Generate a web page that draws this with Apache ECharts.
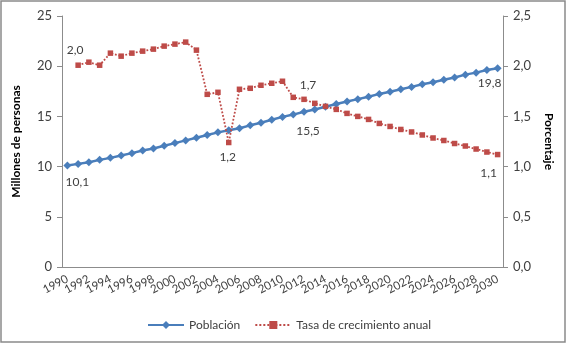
<!DOCTYPE html>
<html>
<head>
<meta charset="utf-8">
<script src="https://cdn.jsdelivr.net/npm/echarts@6/dist/echarts.min.js"></script>
<style>
html,body{margin:0;padding:0;background:#fff;}
#chart{width:567px;height:344px;}
</style>
</head>
<body>
<div id="chart"></div>
<script>
const years = [];
for (let y = 1990; y <= 2030; y++) years.push(String(y));

const poblacion = [10.10, 10.27, 10.44, 10.67, 10.87, 11.11, 11.34, 11.60, 11.81, 12.07,
  12.34, 12.61, 12.87, 13.14, 13.41, 13.62, 13.82, 14.11, 14.37, 14.67,
  14.95, 15.18, 15.46, 15.69, 15.96, 16.23, 16.48, 16.72, 16.96, 17.24,
  17.46, 17.70, 17.94, 18.20, 18.41, 18.65, 18.88, 19.16, 19.36, 19.62, 19.80];

const tasa = [null, 2.01, 2.04, 2.01, 2.13, 2.10, 2.13, 2.15, 2.17, 2.20,
  2.22, 2.24, 2.16, 1.72, 1.74, 1.24, 1.77, 1.78, 1.81, 1.83,
  1.85, 1.69, 1.67, 1.63, 1.60, 1.57, 1.53, 1.50, 1.47, 1.43,
  1.40, 1.37, 1.345, 1.315, 1.285, 1.26, 1.23, 1.205, 1.175, 1.145, 1.12];

const leftTicks = [0, 5, 10, 15, 20, 25];
const rightTicks = [0, 0.5, 1.0, 1.5, 2.0, 2.5];

const fmt1 = v => v.toFixed(1).replace('.', ',');
const FONT = 'Lato';
const TXT = '#404040';
const AX = '#8c8c8c';

function labelFor(seriesName, idx) {
  const map = {
    'Población': {0: {position: 'bottom', offset: [10, 2]}, 22: {position: 'bottom', offset: [4, 4]}, 40: {position: 'bottom', offset: [-8, 0]}},
    'Tasa de crecimiento anual': {1: {position: 'top', offset: [-3, -1]}, 15: {position: 'bottom', offset: [-1, 1]}, 22: {position: 'top', offset: [4, 0]}, 40: {position: 'bottom', offset: [-9, 5]}}
  };
  return map[seriesName][idx];
}

function buildData(name, arr) {
  return arr.map((v, i) => {
    const l = labelFor(name, i);
    if (v !== null && l) {
      return {value: v, label: Object.assign({show: true, formatter: p => fmt1(p.value), color: TXT, fontSize: 12, fontFamily: FONT}, l)};
    }
    return v;
  });
}

const chart = echarts.init(document.getElementById('chart'), null, {renderer: 'canvas'});
chart.setOption({
  animation: false,
  backgroundColor: '#fff',
  textStyle: {fontFamily: FONT},
  grid: {left: 62, right: 64, top: 16, bottom: 77, containLabel: false, outerBoundsMode: 'none'},
  graphic: [{type: 'rect', shape: {x: 1, y: 1, width: 564, height: 341}, style: {fill: null, stroke: '#8a8a8a', lineWidth: 1.5}, silent: true}],
  legend: {
    left: 142, top: 314,
    itemGap: 14, itemWidth: 36, itemHeight: 10,
    textStyle: {color: TXT, fontSize: 12, fontFamily: FONT},
    data: ['Población', 'Tasa de crecimiento anual']
  },
  xAxis: {
    type: 'category',
    data: years,
    boundaryGap: true,
    axisLine: {lineStyle: {color: AX}},
    axisTick: {interval: 0, length: 4, lineStyle: {color: AX}},
    axisLabel: {interval: 0, rotate: 28, color: TXT, fontSize: 11.5, fontFamily: FONT, margin: 11,
      showMinLabel: true, showMaxLabel: true, hideOverlap: false,
      formatter: (v, i) => (i % 2 === 0 ? v : '')}
  },
  yAxis: [{
    type: 'value', min: 0, max: 25, interval: 5,
    name: 'Millones de personas', nameLocation: 'middle', nameGap: 40,
    nameTextStyle: {fontWeight: 'bold', color: '#000', fontSize: 12, fontFamily: FONT},
    axisLine: {show: true, lineStyle: {color: AX}},
    axisTick: {show: true, length: 5, lineStyle: {color: AX}},
    splitLine: {show: false},
    axisLabel: {color: TXT, fontSize: 13, fontFamily: FONT, margin: 10, formatter: v => leftTicks.includes(v) ? String(v) : ''}
  }, {
    type: 'value', min: 0, max: 2.5, interval: 0.5, position: 'right',
    name: 'Porcentaje', nameLocation: 'middle', nameGap: 40, nameRotate: -90,
    nameTextStyle: {fontWeight: 'bold', color: '#000', fontSize: 12, fontFamily: FONT},
    axisLine: {show: true, lineStyle: {color: AX}},
    axisTick: {show: true, length: 5, lineStyle: {color: AX}},
    splitLine: {show: false},
    axisLabel: {color: TXT, fontSize: 13, fontFamily: FONT, margin: 10, formatter: v => fmt1(v)}
  }],
  series: [{
    name: 'Población', type: 'line', yAxisIndex: 0,
    data: buildData('Población', poblacion),
    symbol: 'diamond', symbolSize: 8, showAllSymbol: true,
    itemStyle: {color: '#4a7ebb'},
    lineStyle: {color: '#4a7ebb', width: 2.5},
    z: 2
  }, {
    name: 'Tasa de crecimiento anual', type: 'line', yAxisIndex: 1,
    data: buildData('Tasa de crecimiento anual', tasa),
    symbol: 'rect', symbolSize: 5.5, showAllSymbol: true,
    itemStyle: {color: '#be4b48'},
    lineStyle: {color: '#be4b48', width: 1.8, type: 'dotted'},
    z: 3
  }]
});
</script>
</body>
</html>
